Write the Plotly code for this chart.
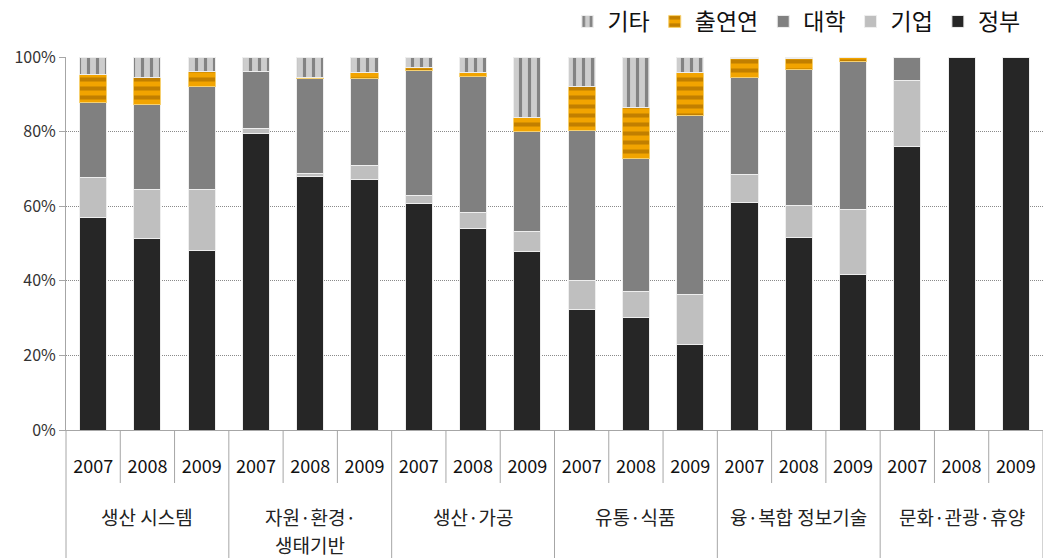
import plotly.graph_objects as go

# Fields and years (x-axis categories)
fields = ["생산 시스템", "자원·환경·\n생태기반", "생산·가공", "유통·식품", "융·복합 정보기술", "문화·관광·휴양"]
years = ["2007", "2008", "2009"]

# Share of R&D funding by performer (%), one value per field-year bar
gov = [57.0, 51.4, 48.1, 79.4, 67.9, 67.1, 60.7, 54.1, 47.9, 32.4, 30.1, 22.9, 61.1, 51.7, 41.8, 75.9, 100.0, 100.0]
corp = [10.8, 13.0, 16.5, 1.4, 1.0, 3.8, 2.2, 4.3, 5.2, 7.6, 7.1, 13.5, 7.5, 8.4, 17.4, 17.7, 0.0, 0.0]
univ = [19.9, 23.0, 27.6, 15.4, 25.3, 23.4, 33.6, 36.5, 26.9, 40.3, 35.5, 47.8, 26.0, 36.6, 39.7, 6.4, 0.0, 0.0]
inst = [7.5, 7.1, 3.9, 0.0, 0.4, 1.6, 0.7, 1.0, 3.8, 11.9, 13.8, 11.7, 4.9, 2.8, 1.1, 0.0, 0.0, 0.0]
other = [4.8, 5.5, 3.9, 3.8, 5.4, 4.1, 2.8, 4.1, 16.2, 7.8, 13.5, 4.1, 0.5, 0.5, 0.0, 0.0, 0.0, 0.0]

# y-axis ticks
y_ticks = [0, 20, 40, 60, 80, 100]
y_tick_text = ["0%", "20%", "40%", "60%", "80%", "100%"]

year_labels = [y for _ in fields for y in years]
xpos = list(range(len(year_labels)))
n = len(xpos)

FONT = "Noto Sans CJK KR"
EDGE = dict(color="#eeeeee", width=1)

fig = go.Figure()
fig.add_bar(x=xpos, y=gov, name="정부", marker=dict(color="#262626", line=EDGE), width=0.5)
fig.add_bar(x=xpos, y=corp, name="기업", marker=dict(color="#bfbfbf", line=EDGE), width=0.5)
fig.add_bar(x=xpos, y=univ, name="대학", marker=dict(color="#808080", line=EDGE), width=0.5)
fig.add_bar(x=xpos, y=inst, name="출연연", width=0.5,
            marker=dict(color="#f0a000", line=dict(color="#f6d070", width=1),
                        pattern=dict(shape="-", bgcolor="#f2a400", fgcolor="#8f5a00",
                                     size=9, solidity=0.45, fillmode="overlay")))
fig.add_bar(x=xpos, y=other, name="기타", width=0.5,
            marker=dict(color="#cccccc", line=EDGE,
                        pattern=dict(shape="|", bgcolor="#cdcdcd", fgcolor="#3a3a3a",
                                     size=9, solidity=0.35, fillmode="overlay")))

# Separator lines under the category axis
PLOT_H = 373.0
shapes = []
for i in range(n + 1):
    xp = i / n
    if i % 3 == 0:
        y1 = -128 / PLOT_H
    else:
        y1 = -53 / PLOT_H
    shapes.append(dict(type="line", xref="paper", yref="paper", x0=xp, x1=xp, y0=0, y1=y1,
                       line=dict(color="#a6a6a6", width=1)))

annotations = []
for gi, f in enumerate(fields):
    lines = f.split("\n")
    cx = (gi * 3 + 1.5) / n
    for li, t in enumerate(lines):
        annotations.append(dict(text=t, x=cx, xref="paper", y=-(86 + 28 * li) / PLOT_H, yref="paper",
                                showarrow=False, xanchor="center", yanchor="middle",
                                font=dict(family=FONT, size=19, color="#222222")))

fig.update_layout(
    width=1043, height=558,
    margin=dict(l=66, r=0, t=57, b=128),
    paper_bgcolor="white", plot_bgcolor="white",
    barmode="stack",
    font=dict(family=FONT, color="#222222"),
    showlegend=True,
    legend=dict(orientation="h", x=0.982, xanchor="right", y=1 + 36 / PLOT_H, yanchor="middle",
                traceorder="reversed", font=dict(family=FONT, size=23, color="#111111"),
                itemwidth=30, bgcolor="rgba(0,0,0,0)"),
    shapes=shapes,
    annotations=annotations,
)
fig.update_xaxes(range=[-0.5, n - 0.5], tickmode="array", tickvals=xpos, ticktext=year_labels,
                 showgrid=False, zeroline=False, showline=True, linecolor="#a6a6a6", linewidth=1,
                 ticks="", tickfont=dict(family=FONT, size=18, color="#111111"), ticklabelstandoff=20)
fig.update_yaxes(range=[0, 100], tickmode="array", tickvals=y_ticks, ticktext=y_tick_text,
                 showgrid=True, gridcolor="#8a8a8a", griddash="1px,1px", gridwidth=1,
                 zeroline=False, showline=True, linecolor="#a6a6a6", linewidth=1,
                 ticks="outside", ticklen=6, tickcolor="#a6a6a6",
                 tickfont=dict(family=FONT, size=16, color="#333333"))

fig.write_html("out.html")
